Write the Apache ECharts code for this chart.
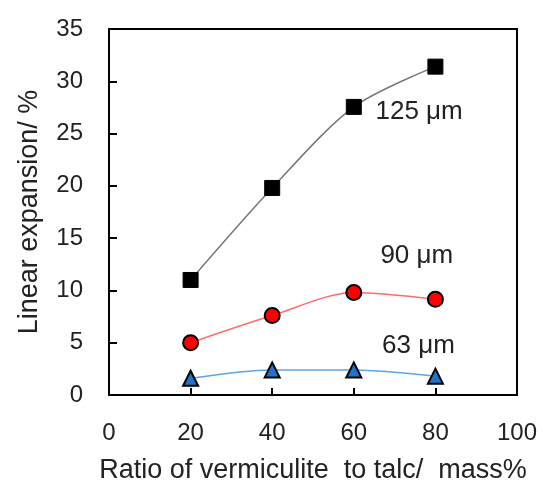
<!DOCTYPE html>
<html>
<head>
<meta charset="utf-8">
<script src="https://cdn.jsdelivr.net/npm/echarts@6/dist/echarts.min.js"></script>
<style>html,body{margin:0;padding:0;background:#fff}#c{width:543px;height:482px}</style>
</head>
<body>
<div id="c"></div>
<script>
const ratios = [20, 40, 60, 80];
const exp125 = [11.0, 19.8, 27.55, 31.4];
const exp90 = [5.0, 7.6, 9.8, 9.15];
const exp63 = [1.6, 2.4, 2.4, 1.8];
const seriesNames = ['125 μm', '90 μm', '63 μm'];
const xTitle = 'Ratio of vermiculite  to talc/  mass%';
const yTitle = 'Linear expansion/ %';

const font = 'Arial, "Liberation Sans", sans-serif';
const chart = echarts.init(document.getElementById('c'));
function pts(v){ return ratios.map((x,i)=>[x,v[i]]); }
function tag(text, x, y){
  return {
    symbol: 'circle', symbolSize: 1,
    itemStyle: {color:'rgba(0,0,0,0)'},
    data: [{coord:[x,y], value: 0}],
    label: {show:true, position:'right', distance:0, formatter: text, color:'#222', fontSize:26, fontFamily:font},
    silent: true
  };
}
chart.setOption({
  animation:false,
  grid:{left:109, right:26, top:29, bottom:87, outerBoundsMode:'none', containLabel:false,
    show:true, borderColor:'#000', borderWidth:2, backgroundColor:'transparent'},
  xAxis:{type:'value', min:0, max:100, interval:20,
    name:xTitle, nameLocation:'middle', nameGap:62,
    nameTextStyle:{fontSize:27, color:'#222', fontFamily:font},
    axisLine:{show:true, onZero:false, lineStyle:{color:'#000', width:2}},
    axisTick:{show:true, inside:true, length:7, lineStyle:{color:'#000', width:2}},
    axisLabel:{fontSize:24, color:'#222', margin:26, fontFamily:font},
    splitLine:{show:false}},
  yAxis:{type:'value', min:0, max:35, interval:5,
    name:yTitle, nameLocation:'middle', nameGap:66,
    nameTextStyle:{fontSize:27, color:'#222', fontFamily:font},
    axisLine:{show:true, lineStyle:{color:'#000', width:2}},
    axisTick:{show:true, inside:true, length:8, lineStyle:{color:'#000', width:2}},
    axisLabel:{fontSize:24, color:'#222', margin:26, fontFamily:font},
    splitLine:{show:false}},
  series:[
    {name:seriesNames[0], type:'line', data:pts(exp125), smooth:0.3,
      symbol:'rect', symbolSize:15,
      itemStyle:{color:'#000', borderColor:'#000', borderWidth:1},
      lineStyle:{color:'#777', width:1.5},
      markPoint: tag(seriesNames[0], 65.2, 27.06)},
    {name:seriesNames[1], type:'line', data:pts(exp90), smooth:0.3,
      symbol:'circle', symbolSize:15,
      itemStyle:{color:'#ff0000', borderColor:'#000', borderWidth:2},
      lineStyle:{color:'#ff6b6b', width:1.5},
      markPoint: tag(seriesNames[1], 66.4, 13.34)},
    {name:seriesNames[2], type:'line', data:pts(exp63), smooth:0.3,
      symbol:'triangle', symbolSize:15,
      itemStyle:{color:'#1e74c8', borderColor:'#000', borderWidth:2},
      lineStyle:{color:'#5aa5e6', width:1.5},
      markPoint: tag(seriesNames[2], 66.8, 4.73)}
  ]
});
</script>
</body>
</html>
